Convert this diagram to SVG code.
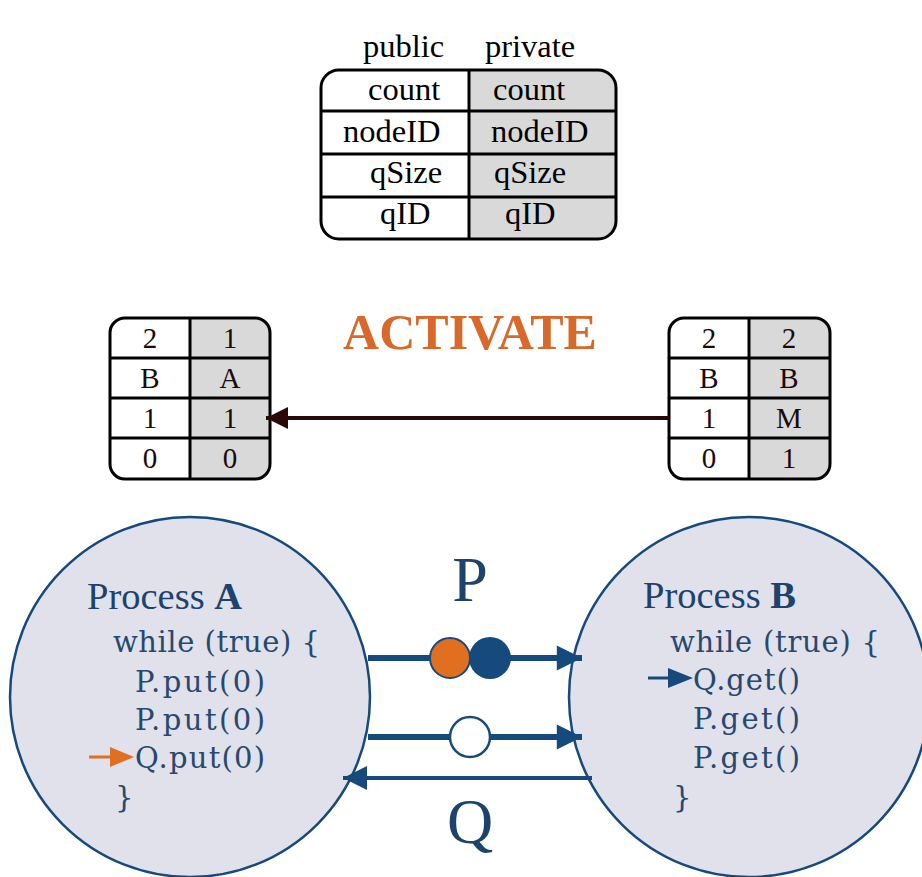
<svg xmlns="http://www.w3.org/2000/svg" width="922" height="877" viewBox="0 0 922 877">
  <style>
    .tbl { fill: #ffffff; stroke: none; }
    .shade { fill: #d9d9d9; stroke: none; }
    .frame { fill: none; stroke: #000000; stroke-width: 3; }
    .grid { stroke: #000000; stroke-width: 3; fill: none; }
    .ttxt { font-family: "Liberation Serif", "Times New Roman", serif; font-size: 32.5px; fill: #000000; }
    .ctxt { font-family: "Liberation Serif", "Times New Roman", serif; font-size: 29px; fill: #1a0a0a; text-anchor: middle; }
    .proc { fill: #e0e1ea; stroke: #174a7c; stroke-width: 2.5; }
    .ptitle { font-family: "Liberation Serif", "Times New Roman", serif; font-size: 38.5px; fill: #1d426e; }
    .code { font-family: "DejaVu Serif", "Liberation Serif", serif; font-size: 29px; fill: #27486f; }
    .chan { stroke: #174a7c; fill: none; }
    .big { font-family: "Liberation Serif", "Times New Roman", serif; font-size: 64px; fill: #1d426e; text-anchor: middle; }
  </style>
  <defs>
    <marker id="arrBlue" viewBox="0 0 10 10" refX="10" refY="5" markerWidth="6.2" markerHeight="4.2" markerUnits="strokeWidth" orient="auto">
      <path d="M0,0 L10,5 L0,10 Z" fill="#174a7c"/>
    </marker>
    <marker id="arrBlueThin" viewBox="0 0 10 10" refX="10" refY="5" markerWidth="8" markerHeight="6" markerUnits="strokeWidth" orient="auto">
      <path d="M0,0 L10,5 L0,10 Z" fill="#174a7c"/>
    </marker>
    <marker id="arrDark" viewBox="0 0 10 10" refX="10" refY="5" markerWidth="7" markerHeight="5.5" markerUnits="strokeWidth" orient="auto">
      <path d="M0,0 L10,5 L0,10 Z" fill="#2a0808"/>
    </marker>
  </defs>

  <!-- public / private field layout -->
  <g id="fields">
    <text class="ttxt" x="363" y="57">public</text>
    <text class="ttxt" x="485" y="57">private</text>
    <rect class="tbl" x="321" y="70" width="295" height="169" rx="18"/>
    <path class="shade" d="M469,70 H598 A18,18 0 0 1 616,88 V221 A18,18 0 0 1 598,239 H469 Z"/>
    <path class="grid" d="M321,111 H616 M321,154 H616 M321,197 H616 M469,70 V239"/>
    <rect class="frame" x="321" y="70" width="295" height="169" rx="18"/>
    <text class="ttxt" x="368" y="100">count</text>
    <text class="ttxt" x="493" y="100">count</text>
    <text class="ttxt" x="343" y="142">nodeID</text>
    <text class="ttxt" x="491" y="142">nodeID</text>
    <text class="ttxt" x="370" y="183">qSize</text>
    <text class="ttxt" x="494" y="183">qSize</text>
    <text class="ttxt" x="380" y="224">qID</text>
    <text class="ttxt" x="505" y="224">qID</text>
  </g>

  <!-- node state of A -->
  <g id="stateA">
    <rect class="tbl" x="110" y="318" width="160" height="161" rx="15"/>
    <path class="shade" d="M190,318 H255 A15,15 0 0 1 270,333 V464 A15,15 0 0 1 255,479 H190 Z"/>
    <path class="grid" d="M110,358 H270 M110,398 H270 M110,438 H270 M190,318 V479"/>
    <rect class="frame" x="110" y="318" width="160" height="161" rx="15"/>
    <text class="ctxt" x="150" y="348">2</text>
    <text class="ctxt" x="230" y="348">1</text>
    <text class="ctxt" x="150" y="388">B</text>
    <text class="ctxt" x="230" y="388">A</text>
    <text class="ctxt" x="150" y="428">1</text>
    <text class="ctxt" x="230" y="428">1</text>
    <text class="ctxt" x="150" y="468">0</text>
    <text class="ctxt" x="230" y="468">0</text>
  </g>

  <!-- node state of B -->
  <g id="stateB">
    <rect class="tbl" x="669" y="318" width="161" height="161" rx="15"/>
    <path class="shade" d="M749,318 H815 A15,15 0 0 1 830,333 V464 A15,15 0 0 1 815,479 H749 Z"/>
    <path class="grid" d="M669,358 H830 M669,398 H830 M669,438 H830 M749,318 V479"/>
    <rect class="frame" x="669" y="318" width="161" height="161" rx="15"/>
    <text class="ctxt" x="709" y="348">2</text>
    <text class="ctxt" x="789" y="348">2</text>
    <text class="ctxt" x="709" y="388">B</text>
    <text class="ctxt" x="789" y="388">B</text>
    <text class="ctxt" x="709" y="428">1</text>
    <text class="ctxt" x="789" y="428">M</text>
    <text class="ctxt" x="709" y="468">0</text>
    <text class="ctxt" x="789" y="468">1</text>
  </g>

  <text id="activate" x="470" y="349" font-family="Liberation Serif, Times New Roman, serif" font-size="50" font-weight="bold" fill="#d8692a" text-anchor="middle">ACTIVATE</text>

  <!-- Process A -->
  <g id="processA">
    <circle class="proc" cx="190" cy="697" r="180"/>
    <text class="ptitle" x="87" y="609">Process <tspan font-weight="bold">A</tspan></text>
    <text class="code" x="113" y="652" textLength="207" lengthAdjust="spacing">while (true) {</text>
    <text class="code" x="135" y="692" textLength="130" lengthAdjust="spacing">P.put(0)</text>
    <text class="code" x="135" y="730" textLength="130" lengthAdjust="spacing">P.put(0)</text>
    <text class="code" x="135" y="768" textLength="130" lengthAdjust="spacing">Q.put(0)</text>
    <text class="code" x="115" y="807">}</text>
    <line x1="89" y1="757" x2="112" y2="757" stroke="#e07020" stroke-width="3"/>
    <path d="M110,747 L134,757 L110,767 Z" fill="#e07020"/>
  </g>

  <!-- Process B -->
  <g id="processB">
    <circle class="proc" cx="749" cy="697" r="180"/>
    <text class="ptitle" x="643" y="608">Process <tspan font-weight="bold">B</tspan></text>
    <text class="code" x="670" y="652" textLength="210" lengthAdjust="spacing">while (true) {</text>
    <text class="code" x="693" y="690" textLength="107" lengthAdjust="spacing">Q.get()</text>
    <text class="code" x="693" y="729" textLength="107" lengthAdjust="spacing">P.get()</text>
    <text class="code" x="693" y="768" textLength="107" lengthAdjust="spacing">P.get()</text>
    <text class="code" x="673" y="807">}</text>
    <line x1="648" y1="678" x2="670" y2="678" stroke="#174a7c" stroke-width="3"/>
    <path d="M668,668 L693,678 L668,688 Z" fill="#174a7c"/>
  </g>

  <!-- connectors -->
  <g id="connectors">
    <line x1="669" y1="418" x2="266" y2="418" stroke="#2a0808" stroke-width="4" marker-end="url(#arrDark)"/>
    <line class="chan" x1="368" y1="658" x2="582" y2="658" stroke-width="6" marker-end="url(#arrBlue)"/>
    <line class="chan" x1="368" y1="737" x2="582" y2="737" stroke-width="6" marker-end="url(#arrBlue)"/>
    <line class="chan" x1="592" y1="778" x2="343" y2="778" stroke-width="4" marker-end="url(#arrBlueThin)"/>
  </g>

  <!-- tokens on the channels -->
  <g id="tokens">
    <circle cx="450" cy="658" r="20" fill="#e07020" stroke="#174a7c" stroke-width="2"/>
    <circle cx="490" cy="658" r="21" fill="#174a7c"/>
    <circle cx="470" cy="737" r="20" fill="#ffffff" stroke="#174a7c" stroke-width="2.5"/>
  </g>

  <text class="big" x="470" y="601">P</text>
  <text class="big" x="470" y="843">Q</text>
</svg>
